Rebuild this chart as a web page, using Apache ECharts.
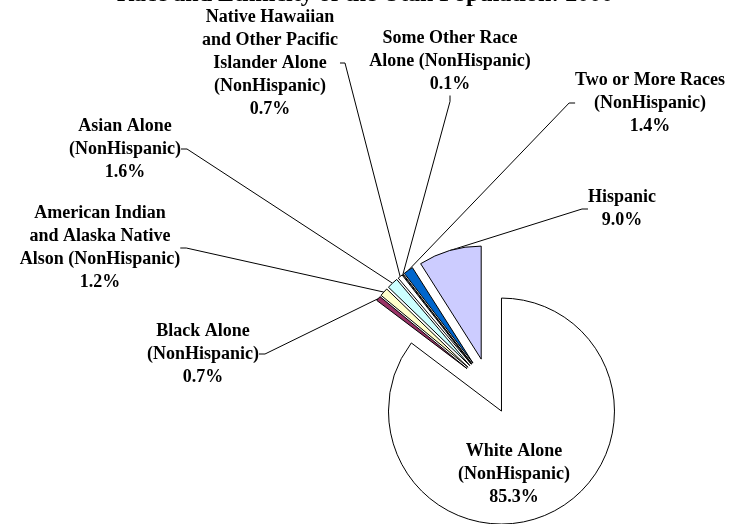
<!DOCTYPE html>
<html>
<head>
    <meta charset="UTF-8">
    <title>Race and Ethnicity of the Utah Population: 2000</title>
    <style>
        html, body { margin: 0; padding: 0; background: #fff; }
        #main { width: 730px; height: 524px; }
    </style>
</head>
<body>
<div id="main"></div>
<script src="https://cdn.jsdelivr.net/npm/echarts@6/dist/echarts.min.js"></script>
<script type="text/javascript">
    // categories, in the order the slices run clockwise from 12 o'clock
    var categories = [
        'White Alone\n(NonHispanic)',
        'Black Alone\n(NonHispanic)',
        'American Indian\nand Alaska Native\nAlson (NonHispanic)',
        'Asian Alone\n(NonHispanic)',
        'Native Hawaiian\nand Other Pacific\nIslander Alone\n(NonHispanic)',
        'Some Other Race\nAlone (NonHispanic)',
        'Two or More Races\n(NonHispanic)',
        'Hispanic'
    ];
    // percent of population
    var shares = [85.3, 0.7, 1.2, 1.6, 0.7, 0.1, 1.4, 9.0];

    var colors = ['#ffffff', '#993366', '#ffffcc', '#ccffff', '#ffffff', '#ffffff', '#0066cc', '#ccccff'];

    // where each label block sits (centre, px)
    var labelPos = [
        [514, 474], [203, 354], [100, 248], [125, 149],
        [270, 63], [450, 61], [650, 103], [622, 209]
    ];

    var font = 'Liberation Serif, Times New Roman, serif';
    var pieCenter = [489, 386];
    var pieRadius = 113;
    var explode = 28;     // every slice is pulled out a little

    var myChart = echarts.init(document.getElementById('main'));

    var total = shares.reduce(function (a, b) { return a + b; }, 0);

    // one pie per slice so that each one can be pulled out along its own middle
    var series = [];
    var before = 0;
    categories.forEach(function (name, k) {
        var mid = (90 - (before + shares[k] / 2) / total * 360) * Math.PI / 180;
        before += shares[k];

        var data = categories.map(function (n, i) {
            var on = i === k;
            return {
                name: n,
                value: shares[i],
                itemStyle: on
                    ? { color: colors[i], borderColor: '#000', borderWidth: 1 }
                    : { color: 'rgba(0,0,0,0)', borderWidth: 0 },
                label: { show: on },
                labelLine: { show: on && k !== 0 }
            };
        });

        series.push({
            type: 'pie',
            center: [pieCenter[0] + explode * Math.cos(mid), pieCenter[1] - explode * Math.sin(mid)],
            radius: pieRadius,
            startAngle: 90,
            clockwise: true,
            avoidLabelOverlap: false,
            silent: true,
            emphasis: { disabled: true },
            label: {
                position: 'outside',
                fontFamily: font,
                fontSize: 18,
                fontWeight: 'bold',
                lineHeight: 23,
                color: '#000',
                formatter: function (p) {
                    return p.name + '\n' + p.value.toFixed(1) + '%';
                }
            },
            labelLine: {
                length: 10,
                length2: 6,
                lineStyle: { color: '#000', width: 1 }
            },
            labelLayout: function (params) {
                var i = params.dataIndex;
                var pos = labelPos[i];
                var out = {
                    x: pos[0],
                    y: pos[1],
                    align: 'center',
                    verticalAlign: 'middle'
                };
                // the Pacific Islander line leaves from the right side of its label
                if (i === 4 && params.labelLinePoints) {
                    var edge = pos[0] + params.labelRect.width / 2 + 2;
                    out.labelLinePoints = [
                        params.labelLinePoints[0],
                        [edge + 5, pos[1]],
                        [edge, pos[1]]
                    ];
                }
                return out;
            },
            data: data
        });
    });

    var option = {
        backgroundColor: '#ffffff',
        animation: false,
        title: {
            text: 'Race and Ethnicity of the Utah Population: 2000',
            left: 'center',
            top: -22,
            textStyle: {
                fontFamily: font,
                fontSize: 24,
                fontWeight: 'bold',
                color: '#000'
            }
        },
        series: series
    };
    myChart.setOption(option);
</script>
</body>
</html>
